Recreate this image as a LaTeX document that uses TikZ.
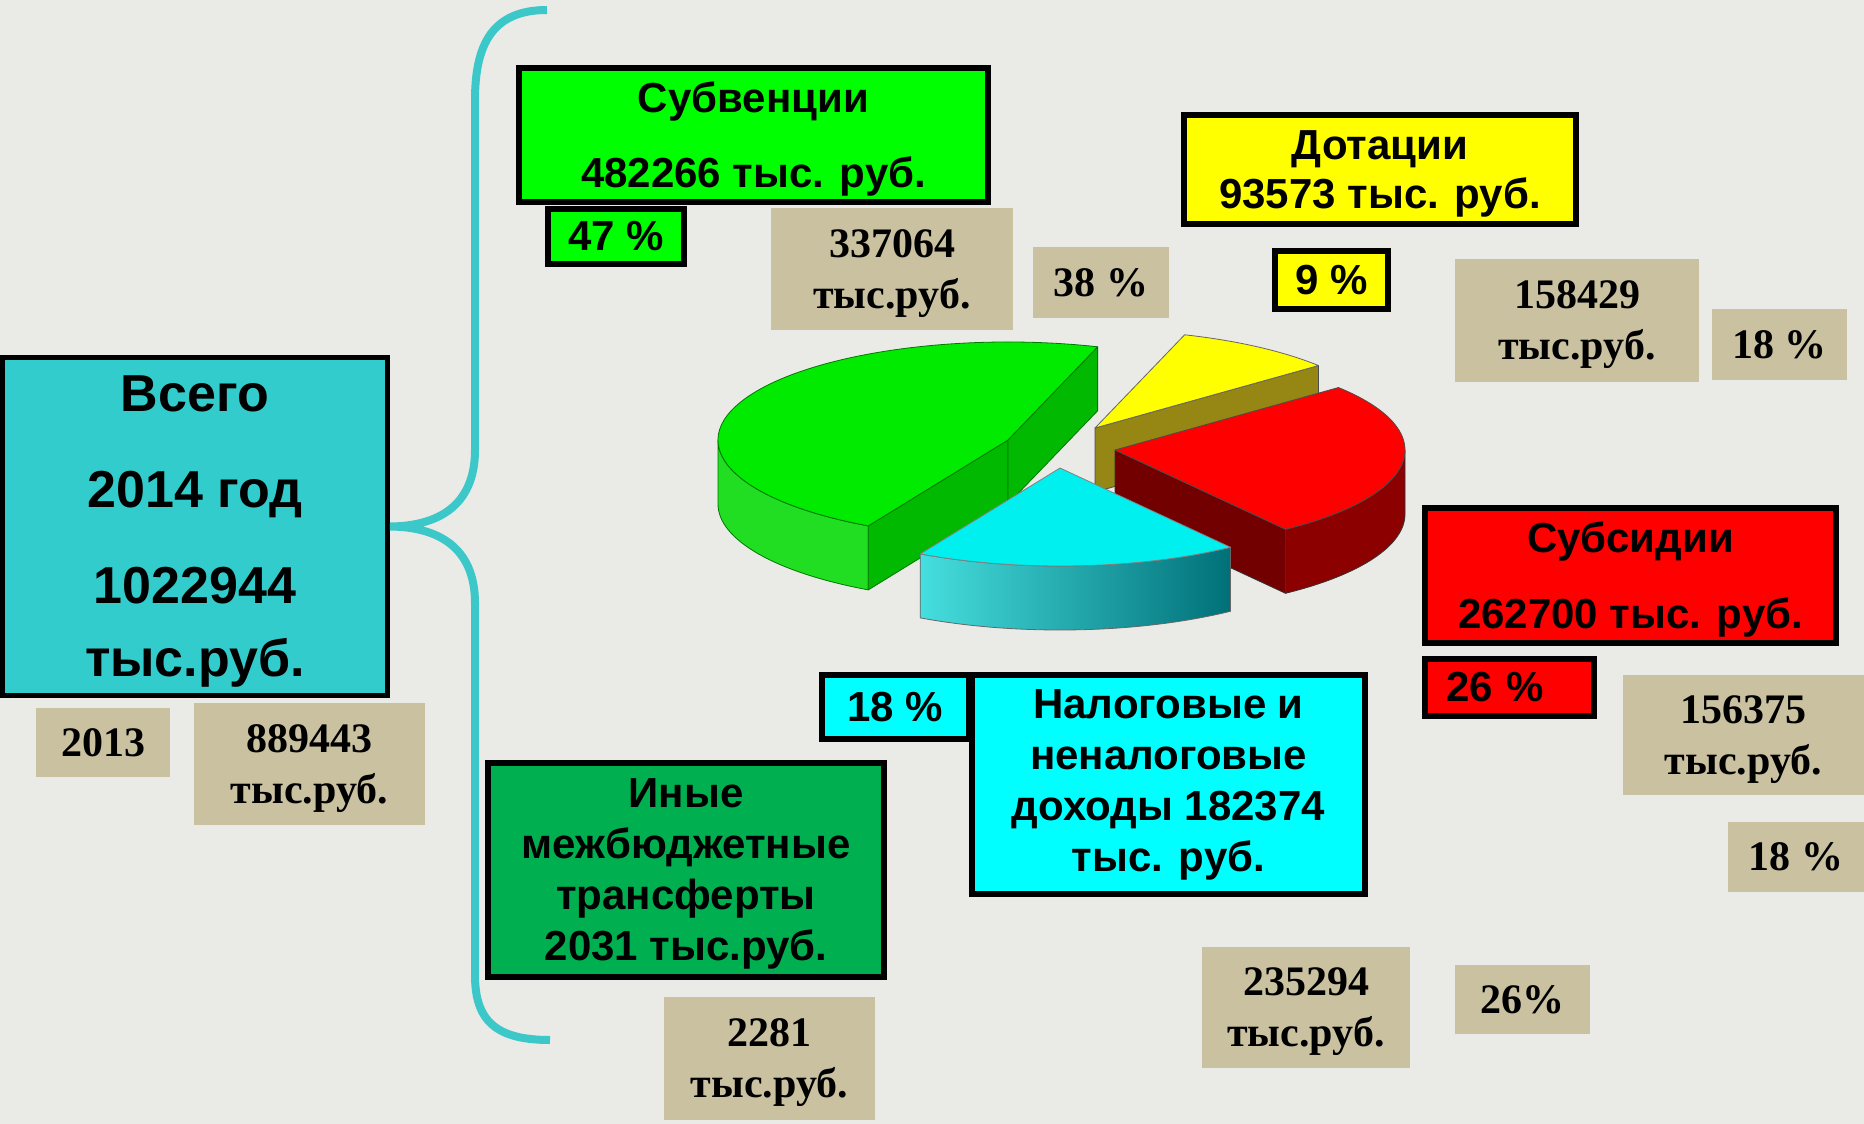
\documentclass[tikz,border=0pt]{standalone}
\usepackage{fontspec}
\setmainfont{Liberation Sans}
\newfontfamily\numserif{Liberation Serif}
\usepackage{tikz}
\usetikzlibrary{positioning,calc}

\definecolor{paper}{RGB}{234,234,231}
\definecolor{totalfill}{RGB}{51,204,204}
\definecolor{bracecol}{RGB}{60,200,200}
\definecolor{tanfill}{RGB}{201,193,160}
\definecolor{subvgreen}{RGB}{0,255,0}
\definecolor{inyegreen}{RGB}{0,176,80}
\definecolor{dotyellow}{RGB}{255,255,0}
\definecolor{subsred}{RGB}{255,0,0}
\definecolor{nalcyan}{RGB}{0,255,255}
% pie colours
\definecolor{gtop}{RGB}{0,235,0}
\definecolor{gside}{RGB}{34,222,34}
\definecolor{gcut}{RGB}{0,185,0}
\definecolor{gline}{RGB}{0,120,0}
\definecolor{ytop}{RGB}{255,255,0}
\definecolor{ycut}{RGB}{150,135,20}
\definecolor{rtop}{RGB}{255,0,0}
\definecolor{rside}{RGB}{140,0,0}
\definecolor{rcut}{RGB}{115,0,0}
\definecolor{ctop}{RGB}{0,240,240}
\definecolor{cleft}{RGB}{70,222,222}
\definecolor{cright}{RGB}{0,112,120}

\begin{document}
\begin{tikzpicture}[x=1pt, y=-1pt,
    cbox/.style={draw=black, line width=6pt, inner sep=0pt, align=center, font=\fontsize{42}{51}\selectfont\bfseries},
    tbox/.style={fill=tanfill, inner sep=0pt, align=center, text depth=0pt, font=\fontsize{42}{51}\selectfont\numserif\bfseries},
    low/.style={text depth=0pt},
    brace/.style={draw=bracecol, line width=8pt},
    rim/.style={x radius=290, y radius=98},
    edge/.style={line width=0.8pt, line join=round}]

    \useasboundingbox (0,0) rectangle (1864,1124);
    \fill[paper] (0,0) rectangle (1864,1124);

    % total
    \node[cbox, low, line width=5pt, fill=totalfill, minimum width=385pt, minimum height=338pt,
          font=\fontsize{52}{96}\selectfont\bfseries] (total) at (195,526.5)
          {Всего\\2014 год\\1022944\\[-23pt]тыс.руб.};
    \node[tbox, minimum width=134pt, minimum height=69pt] (y13) at (103,742.5) {2013};
    \node[tbox, minimum width=231pt, minimum height=122pt] (sum13) at (309.5,764) {889443\\тыс.руб.};

    % brace
    \draw[brace] (547,10) .. controls (492,10) and (475,45) .. (475,100) -- (475,450)
        .. controls (475,500) and (445,526) .. (total.east)
        .. controls (445,527) and (475,553) .. (475,603) -- (475,975)
        .. controls (475,1020) and (495,1040) .. (550,1040);

    % subventions
    \node[cbox, low, fill=subvgreen, minimum width=469pt, minimum height=134pt] (subv) at (753.5,135)
          {Субвенции\\[24pt]482266 тыс. руб.};
    \node[cbox, fill=subvgreen, minimum width=136pt, minimum height=55pt] (subvpct) at (616,236.5) {47 \%};
    \node[tbox, minimum width=242pt, minimum height=122pt] (subv13) at (892,269) {337064\\тыс.руб.};
    \node[tbox, minimum width=136pt, minimum height=71pt] (subv13pct) at (1101,282.5) {38 \%};

    % dotations
    \node[cbox, low, fill=dotyellow, minimum width=392pt, minimum height=109pt] (dot) at (1380,169.5)
          {Дотации\\[-2pt]93573 тыс. руб.};
    \node[cbox, fill=dotyellow, minimum width=113pt, minimum height=58pt] (dotpct) at (1331.5,280) {9 \%};
    \node[tbox, minimum width=244pt, minimum height=123pt] (dot13) at (1577,320.5) {158429\\тыс.руб.};
    \node[tbox, minimum width=135pt, minimum height=71pt] (dot13pct) at (1779.5,344.5) {18 \%};

    % subsidies
    \node[cbox, low, fill=subsred, minimum width=411pt, minimum height=135pt] (subs) at (1630.5,575.5)
          {Субсидии\\[25pt]262700 тыс. руб.};
    \node[cbox, fill=subsred, inner xsep=21pt, text width=127pt, align=left, minimum height=57pt] (subspct) at (1509.5,687.5) {26 \%};
    \node[tbox, minimum width=241pt, minimum height=120pt] (subs13) at (1743.5,735) {156375\\тыс.руб.};
    \node[tbox, minimum width=136pt, minimum height=70pt] (subs13pct) at (1796,857) {18 \%};

    % tax and non-tax
    \node[cbox, fill=nalcyan, minimum width=393pt, minimum height=219pt] (nal) at (1168.5,784.5)
          {Налоговые и\\неналоговые\\доходы 182374\\тыс. руб.};
    \node[cbox, fill=nalcyan, minimum width=147pt, minimum height=64pt] (nalpct) at (895.5,707) {18 \%};
    \node[tbox, minimum width=208pt, minimum height=121pt] (nal13) at (1306,1007.5) {235294\\тыс.руб.};
    \node[tbox, minimum width=135pt, minimum height=69pt] (nal13pct) at (1522.5,999.5) {26\%};

    % other transfers
    \node[cbox, low, fill=inyegreen, minimum width=396pt, minimum height=214pt] (inye) at (686,870)
          {Иные\\межбюджетные\\трансферты\\2031 тыс.руб.};
    \node[tbox, minimum width=211pt, minimum height=123pt] (inye13) at (769.5,1058.5) {2281\\тыс.руб.};

    % pie: yellow
    \coordinate (yc) at (1095,428);
    \filldraw[ycut, draw=black!70, edge] (yc) -- ++(-39.6:290 and 98) -- ++(0,64) -- ++(140.4:290 and 98) -- cycle;
    \filldraw[ytop, draw=black!60, edge] (yc) -- ++(-72:290 and 98) arc[rim, start angle=-72, end angle=-39.6] -- cycle;

    % pie: green
    \coordinate (gc) at (1008,440);
    \filldraw[gside, draw=gline, edge] (gc) ++(118.8:290 and 98) arc[rim, start angle=118.8, end angle=180]
        -- ++(0,64) arc[rim, start angle=180, end angle=118.8] -- cycle;
    \filldraw[gcut, draw=gline, edge] (gc) -- ++(118.8:290 and 98) -- ++(0,64) -- ++(298.8:290 and 98) -- cycle;
    \filldraw[gcut, draw=gline, edge] (gc) -- ++(288:290 and 98) -- ++(0,64) -- ++(108:290 and 98) -- cycle;
    \filldraw[gtop, draw=gline, edge] (gc) -- ++(118.8:290 and 98) arc[rim, start angle=118.8, end angle=288] -- cycle;

    % pie: red
    \coordinate (rc) at (1115,450);
    \filldraw[rside, draw=black!80, edge] (rc) ++(0:290 and 98) arc[rim, start angle=0, end angle=54]
        -- ++(0,64) arc[rim, start angle=54, end angle=0] -- cycle;
    \filldraw[rcut, draw=black!80, edge] (rc) -- ++(54:290 and 98) -- ++(0,64) -- ++(234:290 and 98) -- cycle;
    \filldraw[rtop, draw=black!70, edge] (rc) -- ++(-39.6:290 and 98) arc[rim, start angle=-39.6, end angle=54] -- cycle;

    % pie: cyan
    \coordinate (cc) at (1060,468);
    \shadedraw[left color=cleft, right color=cright, draw=black!60, edge] (cc) ++(54:290 and 98) arc[rim, start angle=54, end angle=118.8]
        -- ++(0,64) arc[rim, start angle=118.8, end angle=54] -- cycle;
    \filldraw[ctop, draw=black!50, edge] (cc) -- ++(54:290 and 98) arc[rim, start angle=54, end angle=118.8] -- cycle;
\end{tikzpicture}
\end{document}
